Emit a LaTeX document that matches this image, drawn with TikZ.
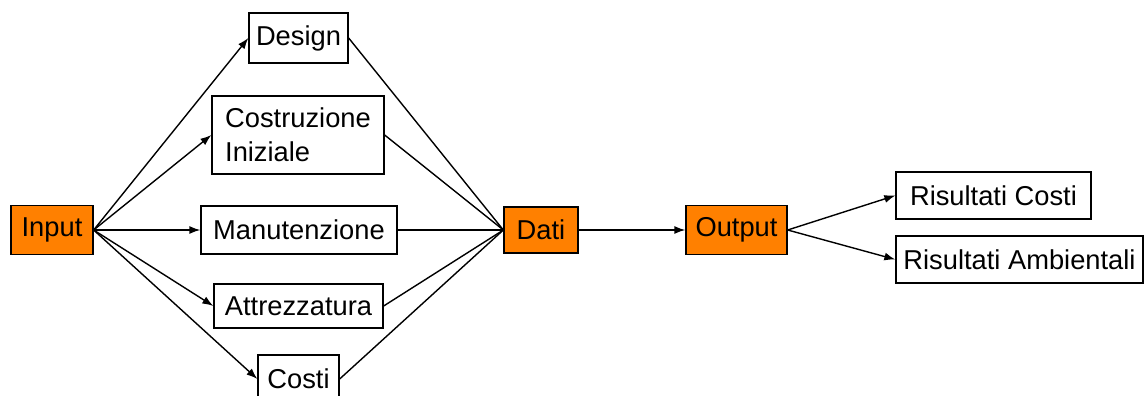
\documentclass[tikz,border=0pt]{standalone}
\usepackage{fontspec}
\setmainfont{Liberation Sans}
\usetikzlibrary{arrows.meta}
\definecolor{boxorange}{HTML}{FF8000}
\tikzset{
  box/.style={draw=black, line width=1.3pt, fill=white, inner sep=0pt,
    font=\fontsize{27.3}{34}\selectfont, text=black},
  hot/.style={box, fill=boxorange},
  link/.style={draw=black, line width=1.4pt},
  feed/.style={link, -{Latex[length=11pt,width=8pt]}}
}
\begin{document}
\begin{tikzpicture}[x=1pt, y=-1pt]
  \useasboundingbox (0,0) rectangle (1144,396);
  \clip (0,0) rectangle (1144,396);

  % source and collecting nodes
  \node[hot, minimum width=82pt, minimum height=49pt] (in) at (52,230) {Input};
  \node[hot, minimum width=74pt, minimum height=46pt] (dati) at (541,230) {Dati};
  \node[hot, minimum width=101pt, minimum height=49pt] (out) at (736.5,230) {Output};

  % input categories
  \node[box, minimum width=99pt, minimum height=50pt] (design) at (298.5,38) {Design};
  \node[box, minimum width=172pt, minimum height=78pt, align=left] (costr) at (298,135) {Costruzione\\Iniziale};
  \node[box, minimum width=196pt, minimum height=48pt] (manut) at (299,230) {Manutenzione};
  \node[box, minimum width=169pt, minimum height=44pt] (attr) at (298.5,306) {Attrezzatura};
  \node[box, minimum width=81pt, minimum height=48pt] (costi) at (298.5,379) {Costi};

  % results
  \node[box, minimum width=195pt, minimum height=47pt] (rc) at (993.5,195.5) {Risultati Costi};
  \node[box, minimum width=247pt, minimum height=47pt] (ra) at (1019.5,259.5) {Risultati Ambientali};

  % fan-out from Input
  \foreach \t in {design,costr,manut,attr,costi}
    \draw[feed] (in.east) -- (\t.west);

  % fan-in to Dati
  \foreach \s in {design,costr,manut,attr,costi}
    \draw[link] (\s.east) -- (dati.west);

  % Dati to Output and results
  \draw[feed] (dati.east) -- (out.west);
  \draw[feed] (out.east) -- (rc.west);
  \draw[feed] (out.east) -- (ra.west);
\end{tikzpicture}
\end{document}
